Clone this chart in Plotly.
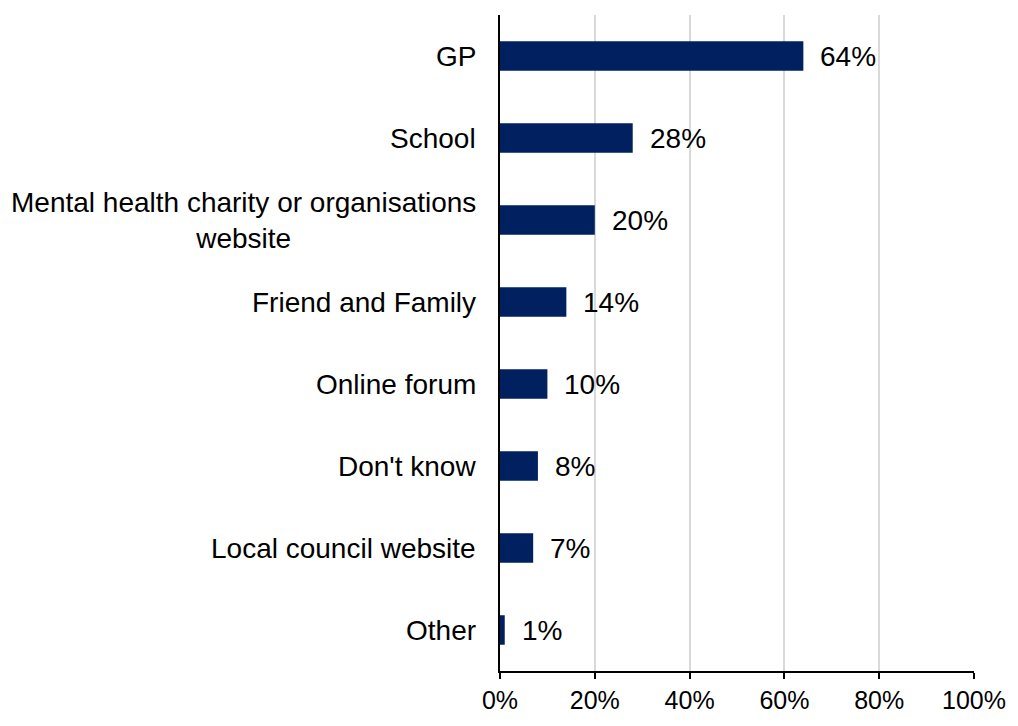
import plotly.graph_objects as go

categories = ["GP", "School", "Mental health charity or organisations<br>website",
              "Friend and Family", "Online forum", "Don't know",
              "Local council website", "Other"]
values = [64, 28, 20, 14, 10, 8, 7, 1]
x_ticks = [0, 20, 40, 60, 80, 100]
x_tick_labels = ["0%", "20%", "40%", "60%", "80%", "100%"]

FONT = "Liberation Sans, Arial, sans-serif"
BAR = "#002060"

fig = go.Figure(go.Bar(
    x=values, y=categories, orientation="h",
    marker=dict(color=BAR, line=dict(width=0)),
    width=0.36,
    hoverinfo="skip",
))

# value labels to the right of each bar
for cat, v in zip(categories, values):
    fig.add_annotation(x=v, y=cat, text=f"{v}%", showarrow=False,
                       xanchor="left", xshift=15,
                       font=dict(family=FONT, size=28, color="#000000"))

# category labels, centered when they wrap onto two lines
for cat in categories:
    fig.add_annotation(x=0, xref="paper", y=cat, text=cat, showarrow=False,
                       xanchor="right", xshift=-22, align="center",
                       font=dict(family=FONT, size=28, color="#000000"))

fig.update_layout(
    width=1018, height=726,
    margin=dict(l=500, r=36, t=15, b=43),
    paper_bgcolor="white", plot_bgcolor="white",
    showlegend=False,
    font=dict(family=FONT, size=25, color="#000000"),
    xaxis=dict(range=[0, 100], tickvals=x_ticks, ticktext=x_tick_labels,
               showgrid=True, gridcolor="#d9d9d9", gridwidth=2,
               showline=True, linecolor="#000000", linewidth=2,
               ticks="outside", ticklen=6, tickcolor="#000000", tickwidth=2,
               zeroline=False, fixedrange=True,
               tickfont=dict(family=FONT, size=25, color="#000000")),
    yaxis=dict(autorange="reversed", showticklabels=False,
               showline=True, linecolor="#000000", linewidth=2,
               showgrid=False, ticks="", zeroline=False, fixedrange=True),
)

fig.write_html("out.html", config={"displayModeBar": False})
